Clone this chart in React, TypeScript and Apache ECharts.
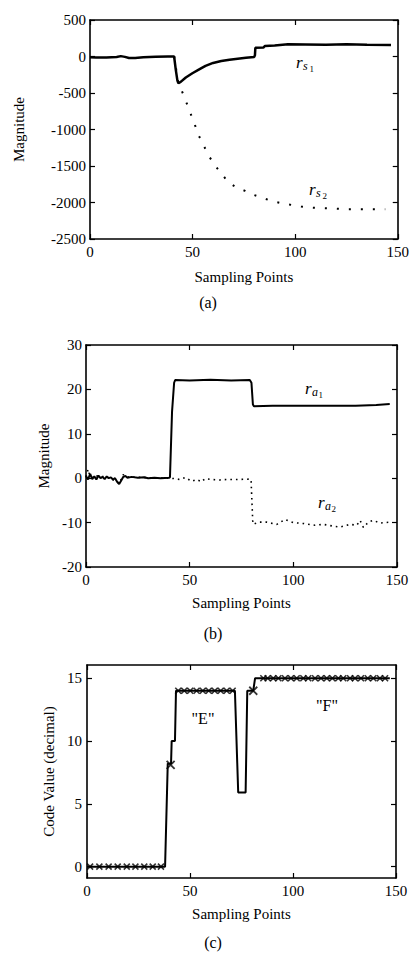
import React, { useEffect, useRef } from "react";
import * as echarts from "echarts";

// ---------- data ----------
const X_TICKS = [0, 50, 100, 150];

// panel (a)
const A_RS1: [number, number][] = [
  [0, -10], [3, -15], [8, -12], [13, -8], [15, 5], [17, -5], [19, -20], [22, -20], [26, -10], [32, -5],
  [38, 0], [41, 0], [41.8, -180], [42.6, -330], [43.1, -366], [44.2, -348], [46.7, -288], [49.9, -229],
  [53, -180], [56.3, -129], [60, -88], [64, -62], [68, -44], [72, -30], [76, -18], [80, -6], [80.4, 18],
  [80.6, 120], [84.5, 123], [85.3, 145], [90, 150], [96.5, 168], [105, 165], [115, 160], [125, 168],
  [130, 165], [135, 160], [146.7, 159],
];
const A_RS2: [number, number][] = [
  [41, 0], [43.1, -366], [45.8, -540], [48.2, -722], [50.7, -904], [53.1, -1088], [55.5, -1225],
  [57.9, -1362], [61.1, -1499], [64.3, -1612], [67.5, -1726], [71.5, -1795], [75.6, -1841], [78.8, -1887],
  [83.6, -1932], [88.4, -1978], [93.3, -2010], [98.1, -2033], [102.9, -2055], [107.7, -2069],
  [113.4, -2078], [119, -2083], [124.6, -2092], [130.2, -2092], [136.7, -2092], [143.9, -2092],
];

// panel (b)
const B_RA1: [number, number][] = [
  [0, 0.5], [1, -0.3], [2, 1], [3, -0.2], [4, 0.4], [5, -0.3], [6, 0.6], [7, 0], [8, 0.3], [9, -0.2],
  [10, 0.4], [11, 0], [12, 0.2], [13, -0.3], [14, 0], [15, -0.8], [16, -1.3], [17, -0.5], [18, 0.3],
  [19, 0.5], [20, 0.1], [22, 0.3], [25, 0.1], [28, 0.2], [30, 0], [33, 0.1], [36, 0], [40, 0.1],
  [40.5, 0.2], [41.5, 15], [42.5, 21.5], [43, 22.1], [50, 22], [60, 22.2], [70, 22], [79, 22.1],
  [79.8, 21.5], [80.5, 16.6], [81, 16.2], [90, 16.3], [110, 16.3], [130, 16.3], [140, 16.5], [146.5, 16.7],
];
const B_RA2: [number, number][] = [
  [0, 0.3], [1, 2], [2, 0.2], [5, 0.5], [10, 0.3], [15, -0.8], [16, -1.2], [18, 0.8], [20, 0.3],
  [30, 0.1], [40, 0], [42.9, -0.1], [45.3, -0.3], [47.8, 0.15], [51, -0.7], [53.4, -0.3], [55.8, -0.8],
  [57.4, -0.1], [60.6, -0.3], [64.6, -0.4], [67.9, -0.3], [72.7, -0.3], [79.1, -0.2], [79.6, -0.3],
  [80.4, -9.5], [80.7, -10.4], [83.1, -9.9], [87.2, -9.9], [92, -10.4], [96, -9.3], [100, -10],
  [104.8, -10.2], [110.5, -10.6], [114.5, -10.4], [119.3, -10.8], [122.5, -11], [127.4, -10.4],
  [130.6, -10.6], [132.2, -9.5], [133.8, -11.1], [136.2, -9.9], [138.6, -9.5], [141.8, -10.1], [146.6, -9.9],
];

// panel (c)
const C_CODE: [number, number][] = [
  [0, 0], [37.9, 0], [39.2, 8.2], [40.8, 8.2], [41.1, 10], [42.7, 10], [43.2, 14], [71.8, 14],
  [73.4, 5.9], [77, 5.9], [77.8, 14], [80.7, 14], [81.6, 15], [147, 15],
];
const C_MARKS: [number, number][] = [
  [1.5, 0], [6, 0], [10.5, 0], [14.9, 0], [19.3, 0], [23.5, 0], [27.8, 0], [31.9, 0], [35.9, 0],
  [44.3, 14], [47.2, 14], [50.1, 14], [53.2, 14], [56.2, 14], [59.1, 14], [62, 14], [64.9, 14], [67.8, 14], [70.7, 14],
  [85.6, 15], [87.7, 15], [90.4, 15], [92.9, 15], [96.1, 15], [99, 15], [101.8, 15], [105, 15], [107.4, 15],
  [110.7, 15], [113.6, 15], [116.4, 15], [119.1, 15], [122, 15], [124.4, 15], [127.7, 15], [130.1, 15],
  [133, 15], [136.3, 15], [139, 15], [142.2, 15], [144.7, 15],
];
const C_BIG_MARKS: [number, number][] = [[40.6, 8.1], [80.7, 14]];
const C_Y_TICKS = [0, 5, 10, 15];

const FONT = "Liberation Serif";

function App() {
  const ref = useRef<HTMLDivElement>(null);
  useEffect(() => {
    if (!ref.current) return;
    const chart = echarts.init(ref.current, undefined, { renderer: "svg" });

    const grids = [
      { left: 90, top: 20, width: 311, height: 219 },
      { left: 86, top: 345, width: 311, height: 222 },
      { left: 87, top: 665, width: 309, height: 213 },
    ];
    const line = { show: true, onZero: false, lineStyle: { color: "#000", width: 1.6 } };
    const tick = { show: true, inside: true, length: 5, lineStyle: { color: "#000", width: 1.2 } };
    const fmt = (v: number) => String(v);
    const label = { color: "#000", fontFamily: FONT, fontSize: 15, formatter: fmt };
    const nameStyle = { color: "#000", fontFamily: FONT, fontSize: 15, fontWeight: "normal" };

    const xAxes: any[] = [];
    const yAxes: any[] = [];
    const yCfg = [
      { min: -2500, max: 500, interval: 500, name: "Magnitude", gap: 64 },
      { min: -20, max: 30, interval: 10, name: "Magnitude", gap: 34 },
      { min: -0.9, max: 16.05, name: "Code Value (decimal)", gap: 30, custom: C_Y_TICKS },
    ];
    const xGaps = [30, 28, 28];
    for (let g = 0; g < 3; g++) {
      xAxes.push({
        type: "value", gridIndex: g, min: X_TICKS[0], max: X_TICKS[X_TICKS.length - 1], interval: 50,
        position: "bottom", axisLine: line, axisTick: tick, splitLine: { show: false },
        axisLabel: { ...label, margin: 5 },
        name: "Sampling Points", nameLocation: "middle", nameGap: xGaps[g], nameTextStyle: nameStyle,
      });
      xAxes.push({
        type: "value", gridIndex: g, min: X_TICKS[0], max: X_TICKS[X_TICKS.length - 1], interval: 50,
        position: "top", axisLine: line, axisTick: tick, splitLine: { show: false }, axisLabel: { show: false },
      });
      const c = yCfg[g];
      const base: any = { type: "value", gridIndex: g, min: c.min, max: c.max, splitLine: { show: false } };
      if (c.custom) {
        yAxes.push({
          ...base, position: "left", axisLine: line,
          axisTick: { ...tick, customValues: c.custom },
          axisLabel: { ...label, margin: 5, customValues: c.custom },
          name: c.name, nameLocation: "middle", nameGap: c.gap, nameTextStyle: nameStyle,
        });
        yAxes.push({
          ...base, position: "right", axisLine: line,
          axisTick: { ...tick, customValues: c.custom }, axisLabel: { show: false, customValues: c.custom },
        });
      } else {
        base.interval = c.interval;
        yAxes.push({
          ...base, position: "left", axisLine: line, axisTick: tick,
          axisLabel: { ...label, margin: 4 },
          name: c.name, nameLocation: "middle", nameGap: c.gap, nameTextStyle: nameStyle,
        });
        yAxes.push({ ...base, position: "right", axisLine: line, axisTick: tick, axisLabel: { show: false } });
      }
    }

    const xPath = "path://M0,0L10,10M0,10L10,0";
    const sub = (x: number, y: number, main: string, s: string, n: string) => ({
      type: "group", x, y,
      children: [
        { type: "text", x: 0, y: 0, style: { text: main, font: `italic 17px "${FONT}"`, fill: "#000", textVerticalAlign: "middle" } },
        { type: "text", x: 7, y: 4, style: { text: s, font: `italic 12px "${FONT}"`, fill: "#000", textVerticalAlign: "middle" } },
        { type: "text", x: 13.5, y: 7, style: { text: n, font: `9px "${FONT}"`, fill: "#000", textVerticalAlign: "middle" } },
      ],
    });
    const cap = (x: number, y: number, t: string) => ({
      type: "text", x, y,
      style: { text: t, font: `16px "${FONT}"`, fill: "#000", textAlign: "center", textVerticalAlign: "middle" },
    });

    chart.setOption({
      animation: false,
      backgroundColor: "#fff",
      grid: grids,
      xAxis: xAxes,
      yAxis: yAxes,
      series: [
        { type: "line", xAxisIndex: 0, yAxisIndex: 0, data: A_RS1, showSymbol: false, lineStyle: { color: "#000", width: 2.5 } },
        { type: "line", xAxisIndex: 0, yAxisIndex: 0, data: A_RS2, showSymbol: false, lineStyle: { color: "#000", width: 2, type: [2, 10] } },
        { type: "line", xAxisIndex: 2, yAxisIndex: 2, data: B_RA1, showSymbol: false, lineStyle: { color: "#000", width: 2 } },
        { type: "line", xAxisIndex: 2, yAxisIndex: 2, data: B_RA2, showSymbol: false, lineStyle: { color: "#000", width: 1.6, type: [1.6, 4] } },
        { type: "line", xAxisIndex: 4, yAxisIndex: 4, data: C_CODE, showSymbol: false, lineStyle: { color: "#000", width: 2 } },
        {
          type: "scatter", xAxisIndex: 4, yAxisIndex: 4, data: C_MARKS, symbol: xPath, symbolSize: 6,
          itemStyle: { color: "none", borderColor: "#000", borderWidth: 1.6 },
        },
        {
          type: "scatter", xAxisIndex: 4, yAxisIndex: 4, data: C_BIG_MARKS, symbol: xPath, symbolSize: 8,
          itemStyle: { color: "none", borderColor: "#000", borderWidth: 1.8 },
        },
      ],
      graphic: [
        sub(296, 62, "r", "s", "1"),
        sub(309, 189, "r", "s", "2"),
        sub(305, 388, "r", "a", "1"),
        sub(318, 502, "r", "a", "2"),
        cap(203, 718, '"E"'),
        cap(327, 705, '"F"'),
        cap(208, 302, "(a)"),
        cap(213, 633, "(b)"),
        cap(213, 942, "(c)"),
      ],
    });
    return () => chart.dispose();
  }, []);
  return <div ref={ref} style={{ position: "absolute", left: 0, top: 0, width: 412, height: 953 }} />;
}

export default App;
